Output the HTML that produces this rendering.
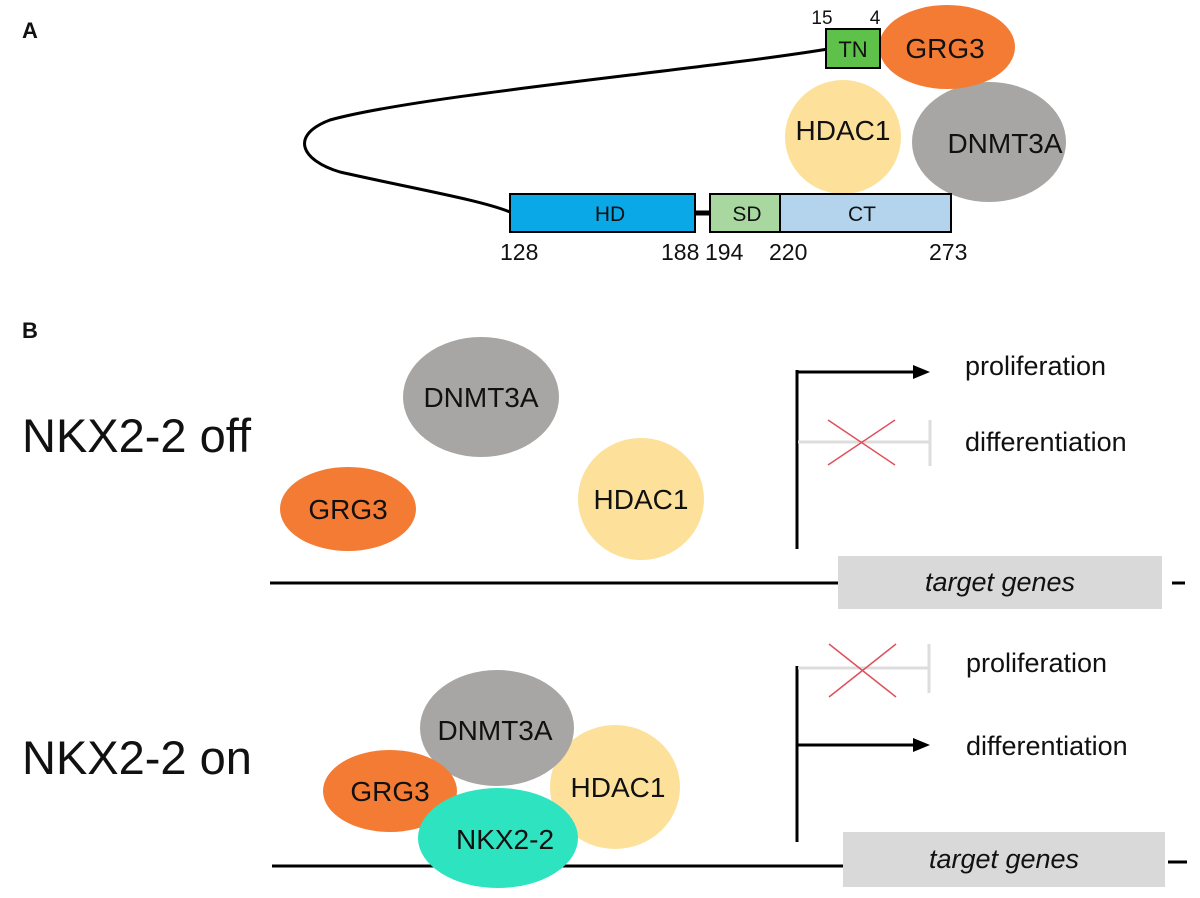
<!DOCTYPE html>
<html><head><meta charset="utf-8"><style>
html,body{margin:0;padding:0;background:#fff;}
svg{display:block;}
text{font-family:"Liberation Sans",sans-serif;fill:#111;}
</style></head><body>
<svg width="1200" height="898" viewBox="0 0 1200 898" xmlns="http://www.w3.org/2000/svg">
<text x="22" y="38" font-size="22" font-weight="bold">A</text>
<text x="22" y="338" font-size="22" font-weight="bold">B</text>

<!-- Part A -->
<path d="M828,49 C700,70 420,95 330,120 C290,135 300,160 340,172 C420,190 480,200 510,212" fill="none" stroke="#000" stroke-width="3"/>
<ellipse cx="843" cy="137" rx="58" ry="57" fill="#fde19b"/>
<ellipse cx="989" cy="142" rx="77" ry="60" fill="#a8a6a5"/>
<ellipse cx="947" cy="47" rx="68" ry="42" fill="#f47b34"/>
<rect x="826" y="29" width="54" height="39" fill="#5ec24a" stroke="#000" stroke-width="2"/>
<text x="853" y="57" font-size="22" text-anchor="middle">TN</text>
<text x="945" y="58" font-size="28" text-anchor="middle">GRG3</text>
<text x="843" y="140" font-size="28" text-anchor="middle">HDAC1</text>
<text x="1005" y="153" font-size="28" text-anchor="middle">DNMT3A</text>
<text x="822" y="24" font-size="19" text-anchor="middle">15</text>
<text x="875" y="24" font-size="19" text-anchor="middle">4</text>
<rect x="510" y="194" width="185" height="38" fill="#0ba8e8" stroke="#000" stroke-width="2"/>
<line x1="695" y1="213" x2="710" y2="213" stroke="#000" stroke-width="5"/>
<rect x="710" y="194" width="70" height="38" fill="#a8d8a0" stroke="#000" stroke-width="2"/>
<rect x="780" y="194" width="171" height="38" fill="#b4d4ee" stroke="#000" stroke-width="2"/>
<text x="610" y="221" font-size="21" text-anchor="middle">HD</text>
<text x="747" y="221" font-size="21" text-anchor="middle">SD</text>
<text x="862" y="221" font-size="21" text-anchor="middle">CT</text>
<g font-size="23"><text x="500" y="260">128</text><text x="661" y="260">188</text><text x="705" y="260">194</text><text x="769" y="260">220</text><text x="929" y="260">273</text></g>

<!-- Part B off -->
<text x="22" y="452" font-size="47">NKX2-2 off</text>
<ellipse cx="481" cy="397" rx="78" ry="60" fill="#a8a6a5"/>
<ellipse cx="348" cy="509" rx="68" ry="42" fill="#f47b34"/>
<ellipse cx="641" cy="499" rx="63" ry="61" fill="#fde19b"/>
<text x="481" y="407" font-size="28" text-anchor="middle">DNMT3A</text>
<text x="348" y="519" font-size="28" text-anchor="middle">GRG3</text>
<text x="641" y="509" font-size="28" text-anchor="middle">HDAC1</text>
<line x1="270" y1="583" x2="840" y2="583" stroke="#000" stroke-width="3"/>
<rect x="838" y="556" width="324" height="53" fill="#d9d9d9"/>
<text x="1000" y="591" font-size="27" font-style="italic" text-anchor="middle">target genes</text>
<line x1="1172" y1="583" x2="1185" y2="583" stroke="#000" stroke-width="3"/>
<line x1="797" y1="370" x2="797" y2="549" stroke="#000" stroke-width="3"/>
<line x1="796" y1="372" x2="915" y2="372" stroke="#000" stroke-width="3"/>
<polygon points="930,372 913,365 913,379" fill="#000"/>
<text x="965" y="375" font-size="27">proliferation</text>
<line x1="798" y1="442" x2="930" y2="442" stroke="#ddd" stroke-width="3"/>
<line x1="930" y1="420" x2="930" y2="466" stroke="#ddd" stroke-width="3"/>
<line x1="828" y1="420" x2="895" y2="465" stroke="#e0505a" stroke-width="1.5"/>
<line x1="828" y1="465" x2="895" y2="420" stroke="#e0505a" stroke-width="1.5"/>
<text x="965" y="451" font-size="27">differentiation</text>

<!-- Part B on -->
<text x="22" y="774" font-size="47">NKX2-2 on</text>
<ellipse cx="615" cy="787" rx="65" ry="62" fill="#fde19b"/>
<ellipse cx="497" cy="728" rx="77" ry="58" fill="#a8a6a5"/>
<ellipse cx="390" cy="791" rx="67" ry="41" fill="#f47b34"/>
<line x1="272" y1="866" x2="845" y2="866" stroke="#000" stroke-width="3"/>
<ellipse cx="498" cy="838" rx="80" ry="50" fill="#2de3c0"/>
<text x="495" y="740" font-size="28" text-anchor="middle">DNMT3A</text>
<text x="390" y="801" font-size="28" text-anchor="middle">GRG3</text>
<text x="618" y="797" font-size="28" text-anchor="middle">HDAC1</text>
<text x="505" y="849" font-size="28" text-anchor="middle">NKX2-2</text>
<rect x="843" y="832" width="322" height="55" fill="#d9d9d9"/>
<text x="1004" y="868" font-size="27" font-style="italic" text-anchor="middle">target genes</text>
<line x1="1168" y1="862" x2="1187" y2="862" stroke="#000" stroke-width="3"/>
<line x1="797" y1="666" x2="797" y2="842" stroke="#000" stroke-width="3"/>
<line x1="798" y1="668" x2="929" y2="668" stroke="#ddd" stroke-width="3"/>
<line x1="929" y1="644" x2="929" y2="693" stroke="#ddd" stroke-width="3"/>
<line x1="829" y1="644" x2="896" y2="697" stroke="#e0505a" stroke-width="1.5"/>
<line x1="829" y1="697" x2="896" y2="644" stroke="#e0505a" stroke-width="1.5"/>
<text x="966" y="672" font-size="27">proliferation</text>
<line x1="796" y1="745" x2="915" y2="745" stroke="#000" stroke-width="3"/>
<polygon points="930,745 913,738 913,752" fill="#000"/>
<text x="966" y="755" font-size="27">differentiation</text>
</svg>
</body></html>
